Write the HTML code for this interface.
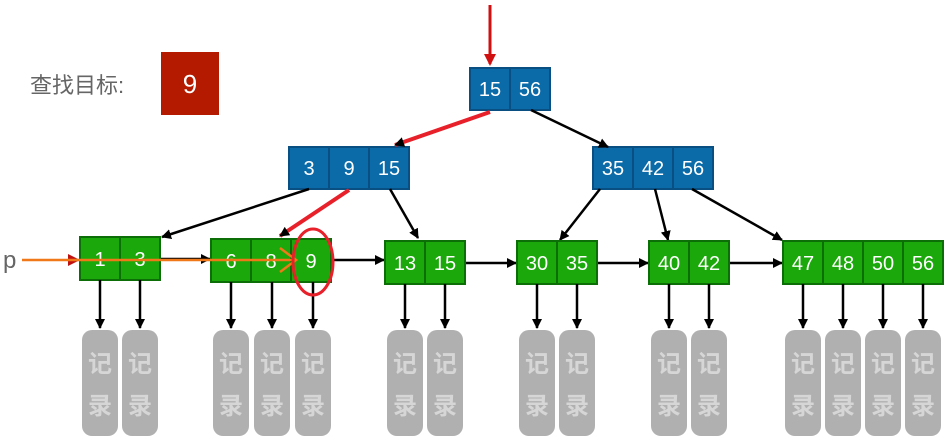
<!DOCTYPE html>
<html><head><meta charset="utf-8"><style>
body{margin:0;background:#fff}
svg{display:block;font-family:"Liberation Sans","Noto Sans CJK SC",sans-serif}
.b{fill:#0b6aa8;stroke:#0a4f82;stroke-width:2}
.g{fill:#1aa80a;stroke:#0b6e06;stroke-width:2}
.t{fill:#fff;font-size:20px;text-anchor:middle}
.r{fill:#b0b0b0}
.rt{fill:#d6d6d6;font-size:24px;font-weight:bold;text-anchor:middle;font-family:"Noto Sans CJK SC",sans-serif}
.k{stroke:#000;stroke-width:2.5;fill:none}
</style></head><body>
<svg width="952" height="448" viewBox="0 0 952 448">
<defs>
<marker id="ak" markerWidth="10" markerHeight="10" refX="9" refY="5" orient="auto" markerUnits="userSpaceOnUse" viewBox="0 0 10 10"><path d="M0,0 L10,5 L0,10 z" fill="#000"/></marker>
<marker id="ar" markerWidth="12" markerHeight="12" refX="10" refY="6" orient="auto" markerUnits="userSpaceOnUse"><path d="M0,0 L12,6 L0,12 z" fill="#d01010"/></marker>
</defs>
<text x="30" y="93" font-size="22" fill="#666">查找目标:</text>
<rect x="161" y="52" width="58" height="63" fill="#b31a00"/>
<text x="190" y="93" style="fill:#fff;font-size:26px;text-anchor:middle">9</text>

<line x1="490" y1="5" x2="490" y2="64" stroke="#d01010" stroke-width="3" marker-end="url(#ar)"/>
<g><rect x="470" y="68" width="40" height="42" class="b"/><rect x="510" y="68" width="40" height="42" class="b"/>
<text x="490" y="96" class="t">15</text><text x="530" y="96" class="t">56</text></g>
<g><rect x="289" y="147" width="40" height="42" class="b"/><rect x="329" y="147" width="40" height="42" class="b"/><rect x="369" y="147" width="40" height="42" class="b"/>
<text x="309" y="175" class="t">3</text><text x="349" y="175" class="t">9</text><text x="389" y="175" class="t">15</text></g>
<g><rect x="593" y="147" width="40" height="42" class="b"/><rect x="633" y="147" width="40" height="42" class="b"/><rect x="673" y="147" width="40" height="42" class="b"/>
<text x="613" y="175" class="t">35</text><text x="653" y="175" class="t">42</text><text x="693" y="175" class="t">56</text></g>

<line x1="490" y1="112" x2="395" y2="145" stroke="#e8202a" stroke-width="4" marker-end="url(#ak)"/>
<line x1="531" y1="110" x2="608" y2="147" class="k" marker-end="url(#ak)"/>
<line x1="309" y1="189" x2="162" y2="237" class="k" marker-end="url(#ak)"/>
<line x1="349" y1="190" x2="280" y2="236" stroke="#e8202a" stroke-width="4" marker-end="url(#ak)"/>
<line x1="390" y1="189" x2="418" y2="238" class="k" marker-end="url(#ak)"/>
<line x1="600" y1="189" x2="560" y2="240" class="k" marker-end="url(#ak)"/>
<line x1="655" y1="189" x2="668" y2="240" class="k" marker-end="url(#ak)"/>
<line x1="692" y1="189" x2="782" y2="240" class="k" marker-end="url(#ak)"/>

<line x1="160" y1="259" x2="210" y2="259" class="k" marker-end="url(#ak)"/>
<line x1="332" y1="260" x2="384" y2="260" class="k" marker-end="url(#ak)"/>
<line x1="465" y1="263" x2="516" y2="263" class="k" marker-end="url(#ak)"/>
<line x1="597" y1="263" x2="648" y2="263" class="k" marker-end="url(#ak)"/>
<line x1="729" y1="263" x2="782" y2="263" class="k" marker-end="url(#ak)"/>

<g><rect x="80" y="237" width="40" height="43" class="g"/><rect x="120" y="237" width="40" height="43" class="g"/>
<text x="100" y="266" class="t">1</text><text x="140" y="266" class="t">3</text></g>
<g><rect x="211" y="239" width="40" height="43" class="g"/><rect x="251" y="239" width="40" height="43" class="g"/><rect x="291" y="239" width="40" height="43" class="g"/>
<text x="231" y="268" class="t">6</text><text x="271" y="268" class="t">8</text><text x="311" y="268" class="t">9</text></g>
<g><rect x="385" y="241" width="40" height="43" class="g"/><rect x="425" y="241" width="40" height="43" class="g"/>
<text x="405" y="270" class="t">13</text><text x="445" y="270" class="t">15</text></g>
<g><rect x="517" y="241" width="40" height="43" class="g"/><rect x="557" y="241" width="40" height="43" class="g"/>
<text x="537" y="270" class="t">30</text><text x="577" y="270" class="t">35</text></g>
<g><rect x="649" y="241" width="40" height="43" class="g"/><rect x="689" y="241" width="40" height="43" class="g"/>
<text x="669" y="270" class="t">40</text><text x="709" y="270" class="t">42</text></g>
<g><rect x="783" y="241" width="40" height="43" class="g"/><rect x="823" y="241" width="40" height="43" class="g"/><rect x="863" y="241" width="40" height="43" class="g"/><rect x="903" y="241" width="40" height="43" class="g"/>
<text x="803" y="270" class="t">47</text><text x="843" y="270" class="t">48</text><text x="883" y="270" class="t">50</text><text x="923" y="270" class="t">56</text></g>

<g class="k" marker-end="url(#ak)">
<line x1="100" y1="280" x2="100" y2="328"/><line x1="140" y1="280" x2="140" y2="328"/>
<line x1="231" y1="282" x2="231" y2="328"/><line x1="272" y1="282" x2="272" y2="328"/><line x1="313" y1="282" x2="313" y2="328"/>
<line x1="405" y1="284" x2="405" y2="328"/><line x1="445" y1="284" x2="445" y2="328"/>
<line x1="537" y1="284" x2="537" y2="328"/><line x1="577" y1="284" x2="577" y2="328"/>
<line x1="669" y1="284" x2="669" y2="328"/><line x1="709" y1="284" x2="709" y2="328"/>
<line x1="803" y1="284" x2="803" y2="328"/><line x1="843" y1="284" x2="843" y2="328"/><line x1="883" y1="284" x2="883" y2="328"/><line x1="923" y1="284" x2="923" y2="328"/>
</g>

<g>
<rect x="82" y="330" width="36" height="106" rx="10" class="r"/><rect x="122" y="330" width="36" height="106" rx="10" class="r"/>
<rect x="213" y="330" width="36" height="106" rx="10" class="r"/><rect x="254" y="330" width="36" height="106" rx="10" class="r"/><rect x="295" y="330" width="36" height="106" rx="10" class="r"/>
<rect x="387" y="330" width="36" height="106" rx="10" class="r"/><rect x="427" y="330" width="36" height="106" rx="10" class="r"/>
<rect x="519" y="330" width="36" height="106" rx="10" class="r"/><rect x="559" y="330" width="36" height="106" rx="10" class="r"/>
<rect x="651" y="330" width="36" height="106" rx="10" class="r"/><rect x="691" y="330" width="36" height="106" rx="10" class="r"/>
<rect x="785" y="330" width="36" height="106" rx="10" class="r"/><rect x="825" y="330" width="36" height="106" rx="10" class="r"/><rect x="865" y="330" width="36" height="106" rx="10" class="r"/><rect x="905" y="330" width="36" height="106" rx="10" class="r"/>
</g>
<g class="rt">
<text x="100" y="372">记</text><text x="100" y="414">录</text>
<text x="140" y="372">记</text><text x="140" y="414">录</text>
<text x="231" y="372">记</text><text x="231" y="414">录</text>
<text x="272" y="372">记</text><text x="272" y="414">录</text>
<text x="313" y="372">记</text><text x="313" y="414">录</text>
<text x="405" y="372">记</text><text x="405" y="414">录</text>
<text x="445" y="372">记</text><text x="445" y="414">录</text>
<text x="537" y="372">记</text><text x="537" y="414">录</text>
<text x="577" y="372">记</text><text x="577" y="414">录</text>
<text x="669" y="372">记</text><text x="669" y="414">录</text>
<text x="709" y="372">记</text><text x="709" y="414">录</text>
<text x="803" y="372">记</text><text x="803" y="414">录</text>
<text x="843" y="372">记</text><text x="843" y="414">录</text>
<text x="883" y="372">记</text><text x="883" y="414">录</text>
<text x="923" y="372">记</text><text x="923" y="414">录</text>
</g>

<text x="3" y="268" font-size="24" fill="#666">p</text>
<path d="M68,254 L80,260 L68,266 z" fill="#c01010"/>
<line x1="22" y1="260" x2="296" y2="260" stroke="#f07818" stroke-width="2.5"/>
<path d="M280,248 L296,260 L280,272" stroke="#f07818" stroke-width="2.5" fill="none"/>
<ellipse cx="313" cy="262" rx="20" ry="33" fill="none" stroke="#e8202a" stroke-width="3"/>
</svg>
</body></html>
